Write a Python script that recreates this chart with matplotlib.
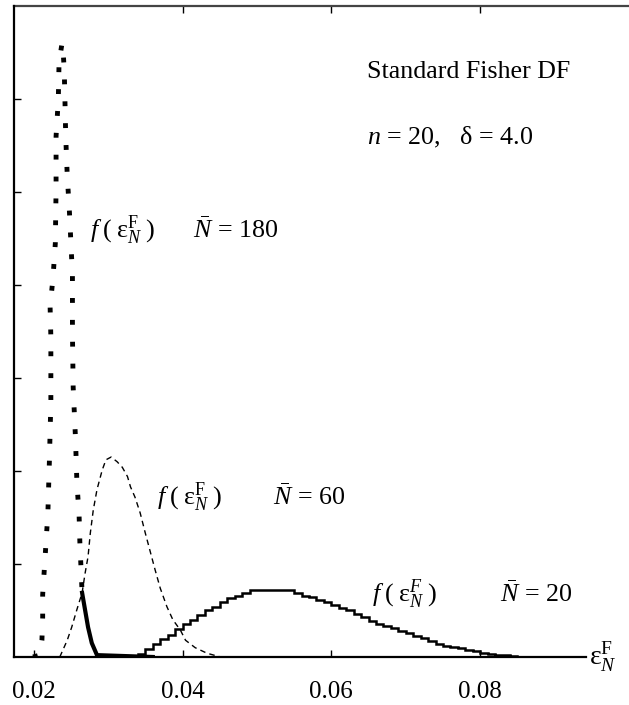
import numpy as np
import matplotlib.pyplot as plt

plt.rcParams['font.family'] = 'Liberation Serif'
plt.rcParams['mathtext.fontset'] = 'custom'
plt.rcParams['mathtext.rm'] = 'Liberation Serif'
plt.rcParams['mathtext.it'] = 'Liberation Serif:italic'

# N = 180 density (narrow peak)
n180_x = [0.0199, 0.0208, 0.0211, 0.0212, 0.0212, 0.0215, 0.0219, 0.0221, 0.0223,
          0.0223, 0.0222, 0.0226, 0.0229, 0.0230, 0.0230, 0.0233, 0.0234, 0.0238,
          0.0239, 0.0241, 0.0242, 0.0243, 0.0245, 0.0248, 0.0252, 0.0252, 0.0253,
          0.0256, 0.0258, 0.0261, 0.0262, 0.0265]
n180_y = [0.00, 0.02, 0.18, 0.42, 0.67, 1.04, 1.55, 2.10, 2.74,
          3.44, 3.76, 4.09, 4.45, 5.03, 5.60, 5.99, 6.39, 6.60,
          6.58, 6.31, 5.96, 5.59, 5.18, 4.78, 4.11, 3.49, 2.90,
          2.37, 1.88, 1.51, 1.23, 0.69]
n180_tail_x = [0.0265, 0.0273, 0.0278, 0.0285, 0.0360]
n180_tail_y = [0.69, 0.32, 0.15, 0.02, 0.00]

# N = 60 density
n60_x = [0.0235, 0.0245, 0.0251, 0.0258, 0.0265, 0.0269, 0.0273, 0.0276, 0.0280,
         0.0285, 0.0292, 0.0297, 0.0304, 0.0312, 0.0319, 0.0326, 0.0330, 0.0336,
         0.0343, 0.0350, 0.0356, 0.0363, 0.0370, 0.0379, 0.0387, 0.0397, 0.0404,
         0.0417, 0.0433, 0.0451]
n60_y = [0.00, 0.18, 0.32, 0.51, 0.69, 0.90, 1.08, 1.33, 1.58,
         1.80, 2.01, 2.12, 2.15, 2.10, 2.04, 1.94, 1.83, 1.72,
         1.55, 1.33, 1.15, 0.94, 0.74, 0.54, 0.40, 0.29, 0.18,
         0.10, 0.04, 0.00]

# N = 20 density, histogram with 0.001 wide bins starting at 0.034
n20_start = 0.034
n20_width = 0.001
n20_heights = [0.03, 0.09, 0.14, 0.19, 0.24, 0.30, 0.35, 0.40, 0.45, 0.50,
               0.54, 0.59, 0.63, 0.66, 0.69, 0.72, 0.72, 0.72, 0.72, 0.72,
               0.72, 0.69, 0.66, 0.64, 0.61, 0.59, 0.56, 0.53, 0.50, 0.46,
               0.43, 0.39, 0.36, 0.33, 0.31, 0.28, 0.26, 0.23, 0.20, 0.17,
               0.14, 0.12, 0.11, 0.10, 0.08, 0.06, 0.04, 0.03, 0.02, 0.02,
               0.01]
n20_edges = n20_start + n20_width * np.arange(len(n20_heights) + 1)

xticks = [0.02, 0.04, 0.06, 0.08]
xtick_labels = ['0.02', '0.04', '0.06', '0.08']
top_ticks = [0.04, 0.06, 0.08]

fig = plt.figure(figsize=(6.29, 7.05), dpi=100)
ax = fig.add_axes([0.0223, 0.0681, 0.9777, 0.9234])

ax.plot(n180_x, n180_y, color='black', lw=3.5, linestyle=(0, (1, 3.5)))
ax.plot(n180_tail_x, n180_tail_y, color='black', lw=3)
ax.plot(n60_x, n60_y, color='black', lw=1, linestyle=(0, (4, 3)))
ax.stairs(n20_heights, n20_edges, color='black', lw=1.8)

ax.set_xlim(0.01735, 0.1)
ax.set_ylim(0, 7)

ax.set_xticks(xticks)
ax.set_xticklabels(xtick_labels, fontsize=18)
ax.set_yticks(range(1, 7))
ax.set_yticklabels([])
ax.tick_params(axis='x', direction='in', length=5, width=1, pad=17)
ax.tick_params(axis='y', direction='in', length=5, width=1)

# top edge ticks, no labels
top = ax.secondary_xaxis('top')
top.set_xticks(top_ticks)
top.set_xticklabels([])
top.tick_params(direction='in', length=5, width=1)
top.spines['top'].set_linewidth(1.6)
top.spines['top'].set_color('#444444')

ax.spines['right'].set_visible(False)
ax.spines['top'].set_visible(False)
ax.spines['bottom'].set_bounds(0.01735, 0.0942)
for side in ['left', 'bottom']:
    ax.spines[side].set_linewidth(1.6)

ax.text(0.0946, 0.0, r'$\mathrm{\varepsilon}_N^{\mathrm{F}}$', fontsize=20,
        ha='left', va='center')

fs = 18.7
ax.text(0.0648, 6.29, 'Standard Fisher DF', fontsize=fs, ha='left', va='center')
ax.text(0.0648, 5.59, r'$n$ = 20,   δ = 4.0', fontsize=fs, ha='left', va='center')

f_label = r'$f\;(\;\mathrm{\varepsilon}_N^{\mathrm{F}}\;)$'
ax.text(0.0276, 4.59, f_label, fontsize=fs, ha='left', va='center')
ax.text(0.0414, 4.59, r'$\bar{N}$ = 180', fontsize=fs, ha='left', va='center')

ax.text(0.0366, 1.72, f_label, fontsize=fs, ha='left', va='center')
ax.text(0.0522, 1.72, r'$\bar{N}$ = 60', fontsize=fs, ha='left', va='center')

ax.text(0.0655, 0.67, r'$f\;(\;\mathrm{\varepsilon}_N^{F}\;)$', fontsize=fs,
        ha='left', va='center')
ax.text(0.0827, 0.67, r'$\bar{N}$ = 20', fontsize=fs, ha='left', va='center')

fig.savefig('out.png', dpi=100)
